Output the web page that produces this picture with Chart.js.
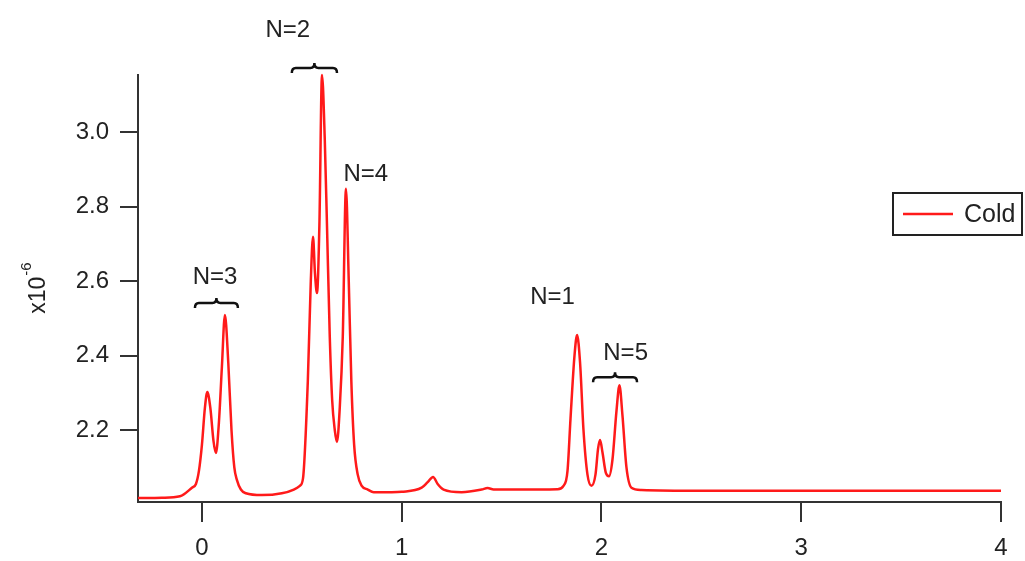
<!DOCTYPE html>
<html>
<head>
<meta charset="utf-8">
<script src="https://cdn.jsdelivr.net/npm/chart.js@4.4.1/dist/chart.umd.min.js"></script>
<style>
    html, body { margin: 0; padding: 0; background: #fff; }
    #wrap { width: 1025px; height: 561px; position: relative; }
</style>
</head>
<body>
<div id="wrap"><canvas id="coldChart"></canvas></div>
<script>
// curve (y in units of 1e-6)
var xValues = [-0.32, -0.2, -0.11, -0.05, -0.03, -0.015, 0.0, 0.015, 0.027, 0.042,
    0.058, 0.07, 0.085, 0.1, 0.115, 0.132, 0.148, 0.162, 0.175, 0.195,
    0.22, 0.3, 0.4, 0.46, 0.49, 0.506, 0.53, 0.545, 0.556, 0.566,
    0.576, 0.588, 0.601, 0.615, 0.626, 0.64, 0.652, 0.665, 0.676, 0.69,
    0.705, 0.721, 0.735, 0.748, 0.762, 0.78, 0.8, 0.83, 0.86, 0.95,
    1.0, 1.1, 1.13, 1.157, 1.18, 1.21, 1.3, 1.4, 1.43, 1.46,
    1.6, 1.78, 1.81, 1.83, 1.845, 1.865, 1.878, 1.893, 1.91, 1.93,
    1.95, 1.97, 1.983, 1.993, 2.005, 2.022, 2.038, 2.055, 2.075, 2.09,
    2.105, 2.125, 2.15, 2.2, 2.5, 3.0, 4.0];

var coldValues = [2.017, 2.018, 2.022, 2.045, 2.055, 2.09, 2.16, 2.26, 2.302, 2.26,
    2.17, 2.138, 2.22, 2.37, 2.509, 2.38, 2.2, 2.1, 2.066, 2.04,
    2.03, 2.025, 2.03, 2.04, 2.05, 2.07, 2.33, 2.6, 2.719, 2.62,
    2.568, 2.75, 3.154, 2.98, 2.75, 2.45, 2.28, 2.2, 2.168, 2.26,
    2.45, 2.848, 2.6, 2.33, 2.16, 2.08, 2.05, 2.04, 2.033, 2.033,
    2.034, 2.045, 2.06, 2.074, 2.055, 2.04, 2.033, 2.04, 2.044, 2.04,
    2.04, 2.041, 2.05, 2.09, 2.23, 2.40, 2.455, 2.38, 2.2, 2.08,
    2.05, 2.08, 2.15, 2.173, 2.14, 2.085, 2.076, 2.12, 2.25, 2.32,
    2.24, 2.1, 2.045, 2.039, 2.037, 2.037, 2.037];

var xTicks = [0, 1, 2, 3, 4];
var yTicks = [2.2, 2.4, 2.6, 2.8, 3.0];

// peak group labels, anchored in data units
var peakLabels = ['N=3', 'N=2', 'N=4', 'N=1', 'N=5'];
var labelX = [0.066, 0.43, 0.82, 1.755, 2.121];
var labelY = [2.609, 3.275, 2.886, 2.557, 2.407];
var braceFrom = [-0.035, 0.45, null, null, 1.958];
var braceTo = [0.18, 0.676, null, null, 2.178];
var braceY = [2.541, 3.173, null, null, 2.342];

var fontFamily = '"Liberation Sans", Arial, sans-serif';

var points = xValues.map(function (x, i) {
    return { x: x, y: coldValues[i] };
});

function drawBrace(ctx, x0, x1, y) {
    var xm = (x0 + x1) / 2;
    var r = 4;
    ctx.beginPath();
    ctx.moveTo(x0, y + 5);
    ctx.quadraticCurveTo(x0, y, x0 + r, y);
    ctx.lineTo(xm - r, y);
    ctx.quadraticCurveTo(xm, y, xm, y - 5);
    ctx.quadraticCurveTo(xm, y, xm + r, y);
    ctx.lineTo(x1 - r, y);
    ctx.quadraticCurveTo(x1, y, x1, y + 5);
    ctx.stroke();
}

var peakNotes = {
    id: 'peakNotes',
    afterDatasetsDraw: function (chart) {
        var ctx = chart.ctx;
        var xs = chart.scales.x;
        var ys = chart.scales.y;
        ctx.save();
        ctx.fillStyle = '#222';
        ctx.strokeStyle = '#111';
        ctx.lineWidth = 2.5;
        ctx.font = '24px ' + fontFamily;
        ctx.textAlign = 'center';
        ctx.textBaseline = 'middle';
        for (var i = 0; i < peakLabels.length; i++) {
            ctx.fillText(peakLabels[i], xs.getPixelForValue(labelX[i]), ys.getPixelForValue(labelY[i]));
            if (braceFrom[i] !== null) {
                drawBrace(ctx, xs.getPixelForValue(braceFrom[i]), xs.getPixelForValue(braceTo[i]), ys.getPixelForValue(braceY[i]));
            }
        }
        ctx.restore();
    }
};

// y title with a real superscript exponent
var yTitle = {
    id: 'yTitle',
    afterDraw: function (chart) {
        var ctx = chart.ctx;
        var area = chart.chartArea;
        var midY = (area.top + area.bottom) / 2;
        ctx.save();
        ctx.translate(37, midY);
        ctx.rotate(-Math.PI / 2);
        ctx.fillStyle = '#222';
        ctx.textBaseline = 'alphabetic';
        ctx.textAlign = 'left';
        ctx.font = '23px ' + fontFamily;
        var base = 'x10';
        var wBase = ctx.measureText(base).width;
        ctx.font = '15px ' + fontFamily;
        var exp = '-6';
        var wExp = ctx.measureText(exp).width;
        var start = -(wBase + wExp) / 2;
        ctx.font = '23px ' + fontFamily;
        ctx.fillText(base, start, 8);
        ctx.font = '15px ' + fontFamily;
        ctx.fillText(exp, start + wBase + 1, -6);
        ctx.restore();
    }
};

// boxed legend inside the plot, top right
var boxLegend = {
    id: 'boxLegend',
    afterDraw: function (chart) {
        var ctx = chart.ctx;
        var ds = chart.data.datasets[0];
        var left = chart.chartArea.right - 108;
        var top = 193;
        ctx.save();
        ctx.fillStyle = '#fff';
        ctx.fillRect(left, top, 129, 42);
        ctx.strokeStyle = '#222';
        ctx.lineWidth = 2;
        ctx.strokeRect(left, top, 129, 42);
        ctx.strokeStyle = ds.borderColor;
        ctx.lineWidth = 2.5;
        ctx.beginPath();
        ctx.moveTo(left + 10, top + 21);
        ctx.lineTo(left + 60, top + 21);
        ctx.stroke();
        ctx.fillStyle = '#222';
        ctx.font = '25px ' + fontFamily;
        ctx.textAlign = 'left';
        ctx.textBaseline = 'middle';
        ctx.fillText(ds.label, left + 71, top + 22);
        ctx.restore();
    }
};

var coldData = {
    datasets: [{
        label: 'Cold',
        data: points,
        borderColor: '#ff1a1a',
        borderWidth: 2.5,
        pointRadius: 0,
        fill: false,
        cubicInterpolationMode: 'monotone',
        clip: 6
    }]
};

var coldOptions = {
    responsive: true,
    maintainAspectRatio: false,
    animation: false,
    layout: { padding: { top: 75, right: 24, left: 0, bottom: 0 } },
    plugins: {
        legend: { display: false },
        tooltip: { enabled: false }
    },
    scales: {
        x: {
            type: 'linear',
            position: 'bottom',
            min: -0.32,
            max: 4,
            afterBuildTicks: function (scale) {
                scale.ticks = xTicks.map(function (v) { return { value: v }; });
            },
            afterFit: function (scale) { scale.height = 59; },
            border: { display: true, color: '#333', width: 2 },
            grid: { display: true, drawOnChartArea: false, drawTicks: true, tickLength: 20, color: '#333', lineWidth: 2 },
            ticks: {
                color: '#222',
                font: { family: fontFamily, size: 24 },
                padding: 12,
                maxRotation: 0,
                autoSkip: false,
                callback: function (v) { return String(v); }
            }
        },
        y: {
            type: 'linear',
            min: 2.0065,
            max: 3.154,
            afterBuildTicks: function (scale) {
                scale.ticks = yTicks.map(function (v) { return { value: v }; });
            },
            afterFit: function (scale) { scale.width = 138; },
            border: { display: true, color: '#333', width: 2 },
            grid: { display: true, drawOnChartArea: false, drawTicks: true, tickLength: 18, color: '#333', lineWidth: 2 },
            ticks: {
                color: '#222',
                font: { family: fontFamily, size: 24 },
                padding: 11,
                autoSkip: false,
                callback: function (v) { return v.toFixed(1); }
            }
        }
    }
};

var contextCold = document.getElementById('coldChart').getContext('2d');

var coldChart = new Chart(contextCold, {
    type: 'line',
    data: coldData,
    options: coldOptions,
    plugins: [peakNotes, yTitle, boxLegend]
});
</script>
</body>
</html>
